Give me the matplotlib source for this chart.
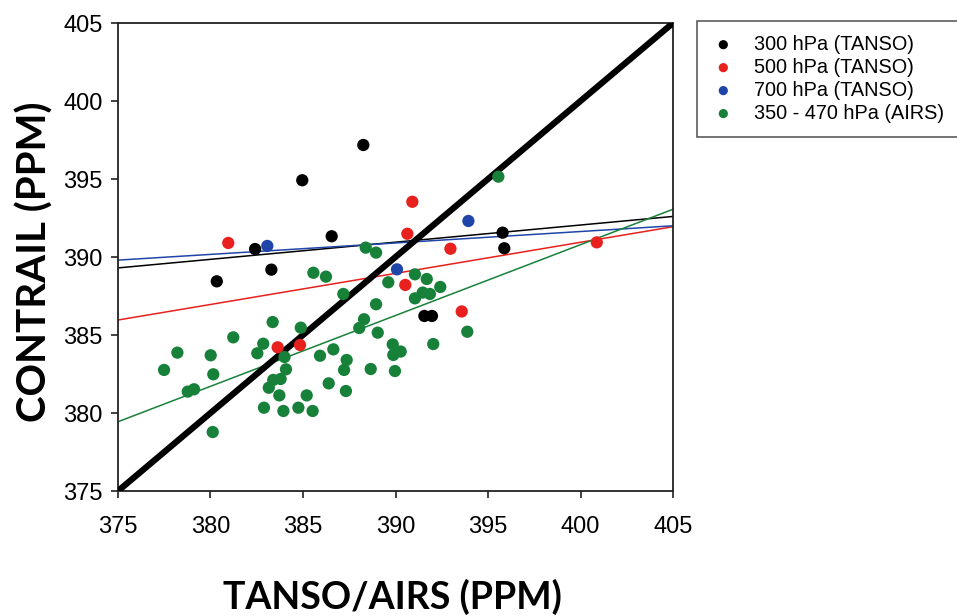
import numpy as np
import matplotlib
matplotlib.use("Agg")
import matplotlib.pyplot as plt

# 300 hPa (TANSO)
x300 = [380.34, 382.41, 383.29, 384.96, 386.55, 388.26, 395.79, 395.88, 391.56, 391.97]
y300 = [388.44, 390.51, 389.19, 394.92, 391.33, 397.18, 391.56, 390.56, 386.22, 386.22]

# 500 hPa (TANSO)
x500 = [380.96, 390.91, 390.64, 390.53, 392.97, 400.88, 393.58, 383.63, 384.84]
y500 = [390.90, 393.54, 391.49, 388.21, 390.53, 390.94, 386.51, 384.21, 384.36]

# 700 hPa (TANSO)
x700 = [383.07, 390.08, 393.94]
y700 = [390.71, 389.21, 392.31]

# 350 - 470 hPa (AIRS)
xairs = [377.49, 378.21, 378.77, 379.11, 380.01, 380.15, 380.12, 381.23, 382.53, 382.85,
         382.89, 383.15, 383.36, 383.39, 383.79, 383.72, 383.94, 384.00, 384.08, 384.75,
         384.88, 385.20, 385.52, 385.56, 385.92, 386.24, 386.39, 386.64, 387.18, 387.22,
         387.36, 387.32, 388.04, 388.30, 388.39, 388.66, 388.95, 388.95, 389.04, 389.61,
         389.85, 389.88, 389.97, 390.28, 391.05, 391.05, 391.47, 391.69, 391.86, 392.04,
         392.42, 393.88, 395.56]
yairs = [382.76, 383.87, 381.37, 381.52, 383.70, 382.48, 378.78, 384.85, 383.83, 384.44,
         380.34, 381.62, 385.83, 382.12, 382.18, 381.13, 380.13, 383.59, 382.80, 380.34,
         385.47, 381.13, 380.13, 388.99, 383.67, 388.74, 381.90, 384.08, 387.63, 382.76,
         383.40, 381.41, 385.45, 386.01, 390.60, 382.82, 390.28, 386.97, 385.15, 388.38,
         384.40, 383.72, 382.69, 383.94, 388.89, 387.35, 387.72, 388.59, 387.63, 384.42,
         388.08, 385.21, 395.15]

# fitted lines: value at x=375 and x=405
line_x = [375, 405]
fit300 = [389.3, 392.6]
fit500 = [385.96, 391.94]
fit700 = [389.8, 392.0]
fitairs = [379.44, 393.06]
one_to_one = [375, 405]

labels = ['300 hPa (TANSO)', '500 hPa (TANSO)', '700 hPa (TANSO)', '350 - 470 hPa (AIRS)']
colors = ['#000000', '#e8201e', '#1f45a8', '#17813a']

tick_font = ['Liberation Sans', 'DejaVu Sans']
label_font = ['Lato', 'DejaVu Sans']

fig = plt.figure(figsize=(9.57, 6.16), dpi=100)
ax = fig.add_axes([118/957, 1-491/616, (673-118)/957, (491-23)/616])

ax.plot(line_x, one_to_one, color='black', lw=4.5, zorder=3, solid_capstyle='butt')
ax.plot(line_x, fit300, color=colors[0], lw=1.1, zorder=2)
ax.plot(line_x, fit500, color=colors[1], lw=1.1, zorder=2)
ax.plot(line_x, fit700, color=colors[2], lw=1.1, zorder=2)
ax.plot(line_x, fitairs, color=colors[3], lw=1.1, zorder=2)

for xs, ys, c, lab in [(x300, y300, colors[0], labels[0]),
                       (x500, y500, colors[1], labels[1]),
                       (x700, y700, colors[2], labels[2]),
                       (xairs, yairs, colors[3], labels[3])]:
    ax.scatter(xs, ys, s=78, color=c, edgecolors='none', label=lab, zorder=4)

ax.set_xlim(375, 405)
ax.set_ylim(375, 405)
ax.set_xticks(np.arange(375, 406, 5))
ax.set_yticks(np.arange(375, 406, 5))
for s in ax.spines.values():
    s.set_linewidth(1.3)
    s.set_color('#222222')
ax.tick_params(direction='out', length=5, width=1.2, color='#222222')
ax.tick_params(axis='x', pad=13)
ax.tick_params(axis='y', pad=6)
for t in ax.get_xticklabels() + ax.get_yticklabels():
    t.set_family(tick_font)
    t.set_fontsize(17)

fig.text(392/957, 1-597/616, 'TANSO/AIRS (PPM)', ha='center', va='center',
         fontsize=27, fontweight='bold', family=label_font)
fig.text(35/957, 1-262/616, 'CONTRAIL (PPM)', ha='center', va='center', rotation=90,
         fontsize=29, fontweight='bold', family=label_font)

leg = ax.legend(loc='upper left', bbox_to_anchor=(697/957, 1-21/616),
                bbox_transform=fig.transFigure, borderaxespad=0, frameon=True,
                fancybox=False, edgecolor='#333333', markerscale=0.75,
                handlelength=1.25, handletextpad=0.9, labelspacing=0.2,
                borderpad=0.7,
                prop={'family': ['Liberation Sans', 'DejaVu Sans'], 'size': 14.3})
leg.get_frame().set_linewidth(1.2)

fig.savefig('out.png', dpi=100)
